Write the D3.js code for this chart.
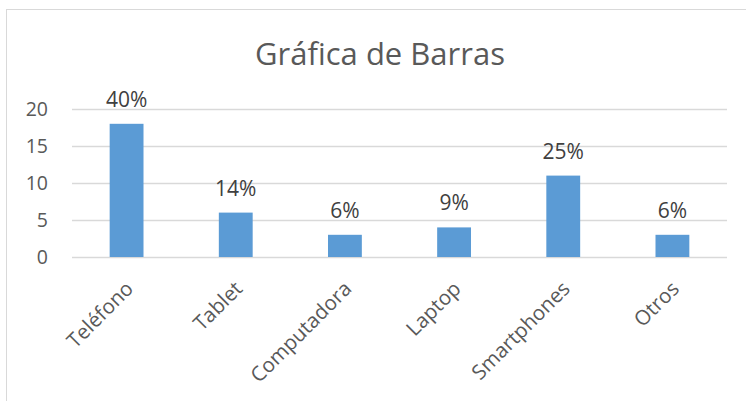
<!DOCTYPE html>
<html><head><meta charset="utf-8">
<script src="https://cdn.jsdelivr.net/npm/d3@7"></script>
<style>body{margin:0;background:#fff}svg{display:block}</style>
</head><body>
<script>
const categories = ["Teléfono","Tablet","Computadora","Laptop","Smartphones","Otros"];
const values = [18,6,3,4,11,3];
const pctLabels = ["40%","14%","6%","9%","25%","6%"];
const yTicks = [0,5,10,15,20];
const title = "Gráfica de Barras";

const W=746,H=401;
const svg=d3.select("body").append("svg").attr("width",W).attr("height",H);
const font="'Open Sans', sans-serif";
svg.append("rect").attr("x",6.5).attr("y",9.5).attr("width",800).attr("height",500)
  .attr("fill","#fff").attr("stroke","#d9d9d9");

const x=d3.scaleBand().domain(categories).range([72,727]).padding(0);
const y=d3.scaleLinear().domain([0,20]).range([257,109]);
const bw=x.bandwidth()*0.31;

svg.append("text").attr("x",380).attr("y",65).attr("text-anchor","middle")
  .attr("font-family",font).attr("font-size",31).attr("fill","#595959").text(title);

const ya=svg.append("g").attr("transform","translate(72,0)")
  .call(d3.axisLeft(y).tickValues(yTicks).tickSize(-655).tickPadding(24));
ya.select(".domain").remove();
ya.selectAll(".tick line").attr("stroke","#d9d9d9").attr("stroke-width",1.3);
ya.selectAll(".tick text").attr("font-family",font).attr("font-size",19.5).attr("fill","#595959");

svg.append("g").selectAll("rect").data(values).join("rect")
  .attr("x",(d,i)=>x(categories[i])+x.bandwidth()/2-bw/2)
  .attr("y",d=>y(d)).attr("width",bw).attr("height",d=>y(0)-y(d))
  .attr("fill","#5b9bd5");

svg.append("g").selectAll("text").data(values).join("text")
  .attr("x",(d,i)=>x(categories[i])+x.bandwidth()/2)
  .attr("y",d=>y(d)-17).attr("text-anchor","middle")
  .attr("font-family",font).attr("font-size",21).attr("fill","#404040")
  .text((d,i)=>pctLabels[i]);

const xa=svg.append("g").attr("transform","translate(0,257)")
  .call(d3.axisBottom(x).tickSize(0).tickPadding(0));
xa.select(".domain").remove();
xa.selectAll(".tick text").attr("font-family",font).attr("font-size",20.5).attr("fill","#595959")
  .attr("text-anchor","end").attr("dy",0).attr("y",0)
  .attr("transform","translate(8,33) rotate(-45)");
</script>
</body></html>
